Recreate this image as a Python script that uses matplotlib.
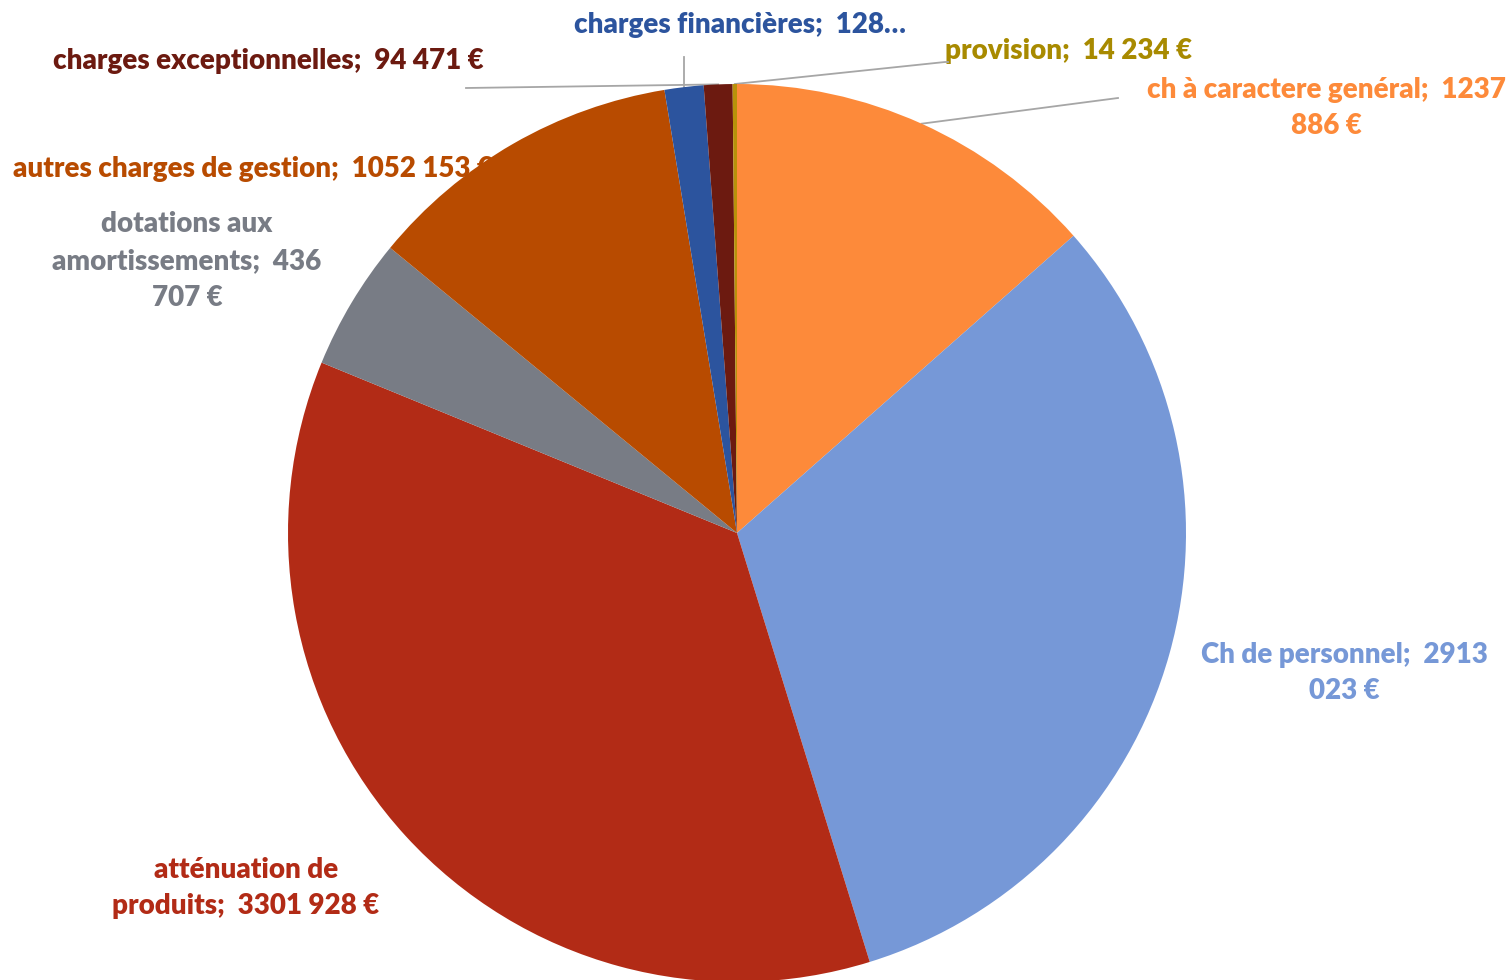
import matplotlib
matplotlib.use("Agg")
from matplotlib import pyplot as plt
import numpy as np

plt.rcParams['font.family'] = ['Lato', 'DejaVu Sans']

# data, clockwise from 12 o'clock
labels = ["ch à caractere genéral", "Ch de personnel", "atténuation de produits",
          "dotations aux amortissements", "autres charges de gestion",
          "charges financières", "charges exceptionnelles", "provision"]
values = [1237886, 2913023, 3301928, 436707, 1052153, 128500, 94471, 14234]
label_texts = ["ch à caractere genéral;  1237\n886 €",
               "Ch de personnel;  2913\n023 €",
               "atténuation de\nproduits;  3301 928 €",
               "dotations aux\namortissements;  436\n707 €",
               "autres charges de gestion;  1052 153 €",
               "charges financières;  128…",
               "charges exceptionnelles;  94 471 €",
               "provision;  14 234 €"]
colors = ["#FD8A3A", "#7698D7", "#B22B16", "#787C85", "#B84B00",
          "#2C549E", "#6C1A10", "#B8920A"]
text_colors = ["#FD8A3A", "#7698D7", "#B22B16", "#787C85", "#B84B00",
               "#2C549E", "#6C1A10", "#A88A00"]

W, H = 1507, 980
cx, cy, R = 737, 533, 449

fig = plt.figure(figsize=(W / 100, H / 100), dpi=100)
ax = fig.add_axes([(cx - R) / W, (H - cy - R) / H, 2 * R / W, 2 * R / H])

def px(x, y):
    # pixel position -> data coords of the pie axes
    return (x - cx) / R, (cy - y) / R

wedges, _ = ax.pie(values, colors=colors, startangle=90, counterclock=False,
                   radius=1, wedgeprops=dict(linewidth=0, zorder=2))
ax.set_xlim(-1, 1)
ax.set_ylim(-1, 1)
ax.set_aspect('auto')
ax.axis('off')

# label positions (pixels) and leader line ends
label_pos = {
    0: (1326, 108), 1: (1344, 673), 2: (246, 888), 3: (187, 261),
    4: (13, 169), 5: (740, 25), 6: (268, 61), 7: (1069, 51),
}
leaders = {
    0: [(1118, 98)],
    5: [(684, 57)],
    6: [(466, 88)],
    7: [(945, 62), (948, 62)],
}

for i, w in enumerate(wedges):
    x, y = px(*label_pos[i])
    ax.text(x, y, label_texts[i], color=text_colors[i], fontsize=20,
            fontweight='heavy', ha='left' if i == 4 else 'center', va='center',
            linespacing=1.5, zorder=1, clip_on=False)
    if i in leaders:
        mid = np.deg2rad((w.theta1 + w.theta2) / 2)
        ex, ey = np.cos(mid), np.sin(mid)
        pts = [(ex, ey)] + [px(*p) for p in leaders[i]]
        xs, ys = zip(*pts)
        if i == 5:
            xs = (xs[1], xs[1])
        ax.plot(xs, ys, color="#A6A6A6", lw=1.3, zorder=1, clip_on=False)

fig.savefig("out.png", dpi=100)
